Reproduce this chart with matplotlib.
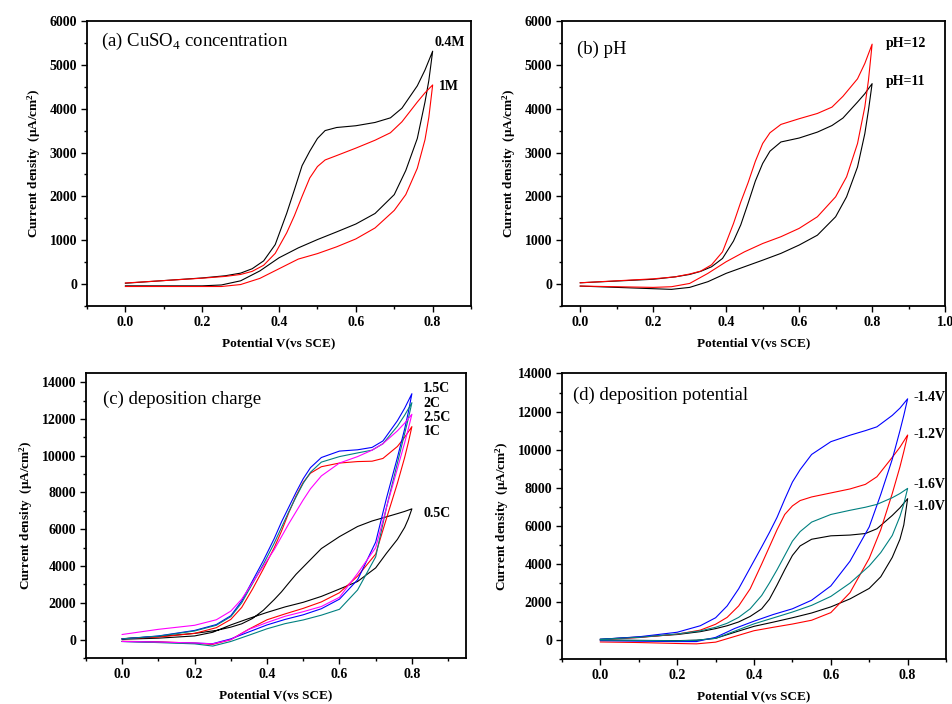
import matplotlib
matplotlib.use("Agg")
import matplotlib.pyplot as plt
from matplotlib.ticker import MultipleLocator

plt.rcParams['font.family'] = ['Liberation Serif', 'DejaVu Serif']
plt.rcParams['mathtext.fontset'] = 'custom'
plt.rcParams['mathtext.rm'] = 'Liberation Serif'
plt.rcParams['mathtext.bf'] = 'Liberation Serif:bold'

# potential grids (V vs SCE): return branch and forward branch
v_up = [0, 0.1, 0.2, 0.26, 0.3, 0.33, 0.36, 0.39, 0.42, 0.44, 0.46, 0.48, 0.5, 0.52, 0.55, 0.6, 0.65, 0.69, 0.72, 0.76, 0.78, 0.8]
v_down = [0, 0.1, 0.2, 0.25, 0.3, 0.35, 0.4, 0.45, 0.5, 0.55, 0.6, 0.65, 0.7, 0.73, 0.76, 0.78, 0.79, 0.8]

# (a) CuSO4 concentration
a_04M_up = [20, 80, 140, 190, 250, 350, 530, 900, 1615, 2150, 2700, 3030, 3320, 3500, 3570, 3610, 3685, 3790, 4010, 4520, 4880, 5310]
a_04M_down = [-40, -40, -40, -20, 75, 300, 600, 825, 1015, 1190, 1370, 1610, 2040, 2590, 3320, 4150, 4640, 5310]
a_1M_up = [25, 80, 135, 175, 220, 290, 430, 700, 1170, 1560, 2000, 2420, 2680, 2830, 2930, 3100, 3280, 3450, 3700, 4150, 4360, 4540]
a_1M_down = [-55, -55, -55, -55, -10, 130, 350, 570, 695, 850, 1030, 1280, 1680, 2040, 2640, 3290, 3800, 4540]

# (b) pH
b_12_up = [30, 75, 120, 165, 230, 295, 440, 735, 1380, 1870, 2310, 2800, 3205, 3450, 3640, 3770, 3890, 4035, 4280, 4680, 5030, 5470]
b_12_down = [-45, -60, -75, -60, 15, 245, 510, 735, 925, 1080, 1270, 1535, 1990, 2445, 3205, 4040, 4650, 5470]
b_11_up = [30, 70, 110, 165, 220, 290, 395, 585, 980, 1350, 1840, 2350, 2750, 3030, 3240, 3330, 3465, 3615, 3785, 4150, 4340, 4570]
b_11_down = [-45, -75, -105, -120, -75, 55, 245, 395, 545, 700, 890, 1115, 1535, 1990, 2670, 3430, 3965, 4570]

# (c) deposition charge
c_05_up = [50, 170, 340, 500, 680, 860, 1150, 1600, 2180, 2600, 3080, 3550, 3950, 4350, 4950, 5600, 6150, 6450, 6620, 6850, 6970, 7110]
c_05_down = [20, 80, 200, 400, 800, 1150, 1480, 1780, 2030, 2350, 2750, 3160, 3900, 4700, 5450, 6100, 6550, 7110]
c_1_up = [50, 140, 340, 650, 1100, 1750, 2750, 3850, 5000, 5900, 6900, 7800, 8550, 9050, 9400, 9600, 9680, 9700, 9850, 10500, 11000, 11580]
c_1_down = [-90, -120, -190, -260, 0, 570, 1080, 1400, 1700, 2050, 2550, 3450, 4650, 6600, 8500, 9900, 10700, 11580]
c_15_up = [40, 200, 500, 820, 1300, 2100, 3200, 4300, 5500, 6400, 7200, 8000, 8750, 9350, 9900, 10250, 10320, 10450, 10800, 11900, 12580, 13370]
c_15_down = [-100, -140, -190, -220, 40, 420, 800, 1100, 1350, 1680, 2200, 3250, 5300, 7700, 9900, 11450, 12350, 13370]
c_2_up = [40, 190, 470, 780, 1250, 2000, 3050, 4100, 5250, 6100, 6950, 7750, 8500, 9100, 9650, 9950, 10150, 10300, 10650, 11600, 12200, 12880]
c_2_down = [-100, -160, -230, -350, -100, 240, 590, 870, 1070, 1330, 1650, 2700, 4500, 7200, 9600, 11200, 12000, 12880]
c_25_up = [280, 560, 780, 1080, 1550, 2200, 3100, 4000, 4900, 5600, 6300, 6950, 7600, 8200, 8900, 9600, 9950, 10300, 10650, 11350, 11770, 12250]
c_25_down = [-100, -130, -180, -230, 0, 560, 930, 1270, 1520, 1800, 2300, 3600, 5000, 7200, 9300, 10700, 11450, 12250]

# (d) deposition potential
d_14_up = [50, 180, 420, 760, 1180, 1800, 2700, 3800, 4900, 5650, 6450, 7400, 8300, 8950, 9750, 10420, 10760, 11000, 11200, 11800, 12180, 12670]
d_14_down = [-20, -50, -70, -70, 150, 620, 1000, 1350, 1650, 2100, 2850, 4150, 5950, 7650, 9500, 11000, 11800, 12670]
d_12_up = [20, 140, 320, 530, 840, 1200, 1800, 2700, 4000, 4900, 5800, 6600, 7050, 7330, 7520, 7730, 7940, 8180, 8580, 9600, 10130, 10770]
d_12_down = [-90, -120, -170, -190, -100, 200, 500, 680, 850, 1050, 1450, 2500, 4300, 5800, 7700, 9100, 9900, 10750]
d_16_up = [50, 150, 330, 490, 680, 890, 1200, 1650, 2350, 3000, 3700, 4450, 5200, 5700, 6200, 6600, 6820, 6980, 7130, 7480, 7700, 7970]
d_16_down = [10, -10, -30, 0, 100, 480, 860, 1170, 1480, 1830, 2300, 3000, 3900, 4600, 5500, 6500, 7150, 7970]
d_10_up = [50, 170, 300, 450, 610, 760, 960, 1250, 1650, 2150, 2900, 3700, 4450, 4950, 5300, 5480, 5520, 5600, 5850, 6550, 6950, 7430]
d_10_down = [10, -10, -20, 0, 100, 420, 730, 950, 1180, 1430, 1750, 2170, 2720, 3330, 4350, 5300, 6050, 7430]

BLACK, RED, BLUE, TEAL, MAG = '#000000', '#ff0000', '#0000ff', '#008080', '#ff00ff'

fig = plt.figure(figsize=(9.53, 7.04), dpi=100)


def cv(ax, down, up, color):
    xs = v_down + v_up[::-1]
    ys = down + up[::-1]
    ax.plot(xs, ys, color=color, lw=0.8)


def style(ax, xlim, ylim, ymaj):
    ax.set_xlim(*xlim)
    ax.set_ylim(*ylim)
    ax.xaxis.set_major_locator(MultipleLocator(0.2))
    ax.xaxis.set_minor_locator(MultipleLocator(0.1))
    ax.yaxis.set_major_locator(MultipleLocator(ymaj))
    ax.yaxis.set_minor_locator(MultipleLocator(ymaj / 2))
    ax.tick_params(which='major', direction='out', length=4, width=1.0,
                   labelsize=10, pad=3, top=False, right=False)
    ax.tick_params(which='minor', direction='out', length=2.5, width=1.0,
                   top=False, right=False)
    for lab in ax.get_xticklabels() + ax.get_yticklabels():
        lab.set_fontweight('bold')
    ax.xaxis.set_major_formatter(plt.FuncFormatter(lambda v, p: f'{v:.1f}'))
    for s in ax.spines.values():
        s.set_linewidth(1.3)
    ax.set_xlabel('Potential V(vs SCE)', fontsize=9.5, fontweight='bold', labelpad=6)
    ax.set_ylabel(r'Current density  (μA/cm$\mathbf{^2}$)', fontsize=9.5,
                  fontweight='bold', labelpad=5)


lab_kw = dict(fontsize=10, fontweight='bold', va='center', ha='left')

# (a)
ax = fig.add_axes([0.0913, 0.5653, 0.403, 0.405])
cv(ax, a_04M_down, a_04M_up, BLACK)
cv(ax, a_1M_down, a_1M_up, RED)
style(ax, (-0.1, 0.9), (-500, 6000), 1000)
ax.set_xticks([0, 0.2, 0.4, 0.6, 0.8])
ax.text(0.036, 0.927, r'(a) CuSO$_4$ concentration', transform=ax.transAxes,
        fontsize=13.5, va='center')
ax.text(0.806, 5500, '0.4M', **lab_kw)
ax.text(0.817, 4515, '1M', **lab_kw)

# (b)
ax = fig.add_axes([0.5897, 0.5653, 0.402, 0.405])
cv(ax, b_11_down, b_11_up, BLACK)
cv(ax, b_12_down, b_12_up, RED)
style(ax, (-0.05, 1.0), (-500, 6000), 1000)
ax.text(0.039, 0.902, '(b) pH', transform=ax.transAxes, fontsize=13.5, va='center')
ax.text(0.837, 5480, 'pH=12', **lab_kw)
ax.text(0.837, 4610, 'pH=11', **lab_kw)

# (c)
ax = fig.add_axes([0.0902, 0.0653, 0.399, 0.405])
cv(ax, c_05_down, c_05_up, BLACK)
cv(ax, c_1_down, c_1_up, RED)
cv(ax, c_15_down, c_15_up, BLUE)
cv(ax, c_2_down, c_2_up, TEAL)
cv(ax, c_25_down, c_25_up, MAG)
style(ax, (-0.1, 0.95), (-1000, 14500), 2000)
ax.set_xticks([0, 0.2, 0.4, 0.6, 0.8])
ax.text(0.046, 0.907, '(c) deposition charge', transform=ax.transAxes,
        fontsize=13.5, va='center')
ax.text(0.830, 13640, '1.5C', **lab_kw)
ax.text(0.832, 12850, '2C', **lab_kw)
ax.text(0.832, 12070, '2.5C', **lab_kw)
ax.text(0.833, 11310, '1C', **lab_kw)
ax.text(0.832, 6870, '0.5C', **lab_kw)

# (d)
ax = fig.add_axes([0.5897, 0.0635, 0.403, 0.406])
cv(ax, d_10_down, d_10_up, BLACK)
cv(ax, d_12_down, d_12_up, RED)
cv(ax, d_14_down, d_14_up, BLUE)
cv(ax, d_16_down, d_16_up, TEAL)
style(ax, (-0.1, 0.9), (-1000, 14000), 2000)
ax.set_xticks([0, 0.2, 0.4, 0.6, 0.8])
ax.text(0.028, 0.925, '(d) deposition potential', transform=ax.transAxes,
        fontsize=13.5, va='center')
ax.text(0.815, 12730, '-1.4V', **lab_kw)
ax.text(0.815, 10790, '-1.2V', **lab_kw)
ax.text(0.815, 8160, '-1.6V', **lab_kw)
ax.text(0.815, 7030, '-1.0V', **lab_kw)

fig.savefig('out.png', dpi=100)
